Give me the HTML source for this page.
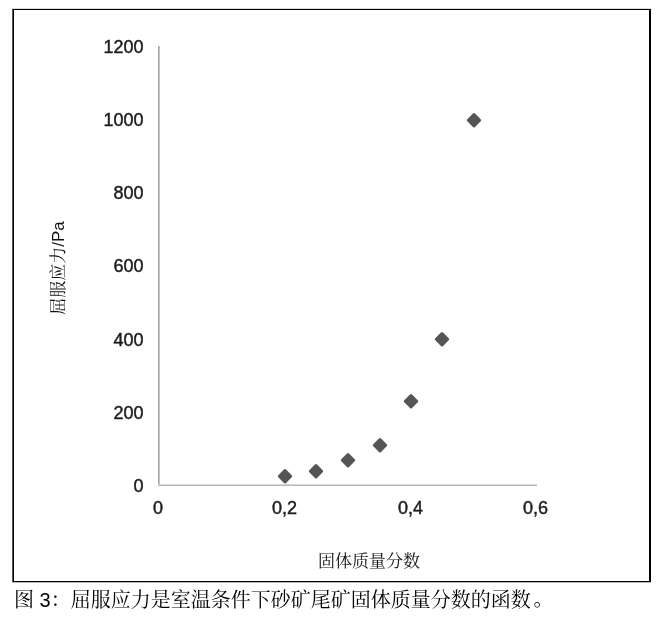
<!DOCTYPE html>
<html lang="zh">
<head>
<meta charset="utf-8">
<title>图 3</title>
<style>
html,body{margin:0;padding:0;background:#fff;}
body{width:661px;height:619px;position:relative;overflow:hidden;font-family:"Liberation Sans","Noto Sans CJK SC",sans-serif;color:#1a1a1a;}
.ln{position:absolute;}
.chart{position:absolute;left:0;top:0;width:661px;height:619px;filter:blur(0.4px);}
.yl{position:absolute;right:517.5px;width:80px;text-align:right;font-size:18px;line-height:20px;height:20px;color:#1c1c1c;-webkit-text-stroke:0.45px #1c1c1c;}
.xl{position:absolute;top:498px;width:60px;text-align:center;font-size:18px;line-height:20px;height:20px;color:#1c1c1c;-webkit-text-stroke:0.45px #1c1c1c;}
.d{position:absolute;width:10.6px;height:10.6px;margin-left:0.3px;background:#555;border-radius:1.5px;transform:translate(-50%,-50%) rotate(45deg);}
.ylab{position:absolute;left:59.3px;top:268.4px;transform:translate(-50%,-50%) rotate(-90deg);white-space:nowrap;font-size:17px;line-height:20px;font-family:"Liberation Sans","Noto Serif CJK SC",serif;color:#111;}
.xlab{position:absolute;left:269px;top:551.5px;width:200px;text-align:center;font-size:17px;line-height:20px;font-family:"Liberation Sans","Noto Serif CJK SC",serif;color:#111;}
.cap{position:absolute;left:14px;top:587.4px;white-space:nowrap;font-size:20px;line-height:26px;font-family:"Liberation Sans","Noto Serif CJK SC",serif;color:#000;}
</style>
</head>
<body>
<!-- frame -->
<div class="ln" style="left:12px;top:9px;width:639px;height:1px;background:#000"></div>
<div class="ln" style="left:12px;top:8px;width:639px;height:1px;background:#ddd"></div>
<div class="ln" style="left:12px;top:581px;width:639px;height:1px;background:#000"></div>
<div class="ln" style="left:12px;top:582px;width:639px;height:1px;background:#bbb"></div>
<div class="ln" style="left:12px;top:9px;width:1px;height:573px;background:#555"></div>
<div class="ln" style="left:13px;top:9px;width:1px;height:573px;background:#000"></div>
<div class="ln" style="left:649px;top:9px;width:2px;height:573px;background:#000"></div>
<div class="chart">
<!-- axes -->
<div class="ln" style="left:158px;top:46px;width:1px;height:440px;background:#a6a6a6"></div>
<div class="ln" style="left:159px;top:46px;width:1px;height:440px;background:#c4c4c4"></div>
<div class="ln" style="left:158px;top:484px;width:378.5px;height:1px;background:#d8d8d8"></div>
<div class="ln" style="left:158px;top:485px;width:378.5px;height:1px;background:#b6b6b6"></div>
<div class="yl" style="top:37.3px">1200</div>
<div class="yl" style="top:110.3px">1000</div>
<div class="yl" style="top:183.3px">800</div>
<div class="yl" style="top:256.3px">600</div>
<div class="yl" style="top:329.8px">400</div>
<div class="yl" style="top:403px">200</div>
<div class="yl" style="top:476px">0</div>
<div class="xl" style="left:128px">0</div>
<div class="xl" style="left:254.5px">0,2</div>
<div class="xl" style="left:380.5px">0,4</div>
<div class="xl" style="left:505.6px">0,6</div>
<div class="d" style="left:284.3px;top:476px"></div>
<div class="d" style="left:316.2px;top:470.5px"></div>
<div class="d" style="left:347.3px;top:460px"></div>
<div class="d" style="left:379.3px;top:445px"></div>
<div class="d" style="left:410.3px;top:401px"></div>
<div class="d" style="left:442px;top:339px"></div>
<div class="d" style="left:473.3px;top:120px"></div>
<div class="ylab">屈服应力/Pa</div>
<div class="xlab">固体质量分数</div>
</div>
<div class="cap">图 3：屈服应力是室温条件下砂矿尾矿固体质量分数的函数<span style="position:relative;left:2.7px;top:-1px">。</span></div>
</body>
</html>
